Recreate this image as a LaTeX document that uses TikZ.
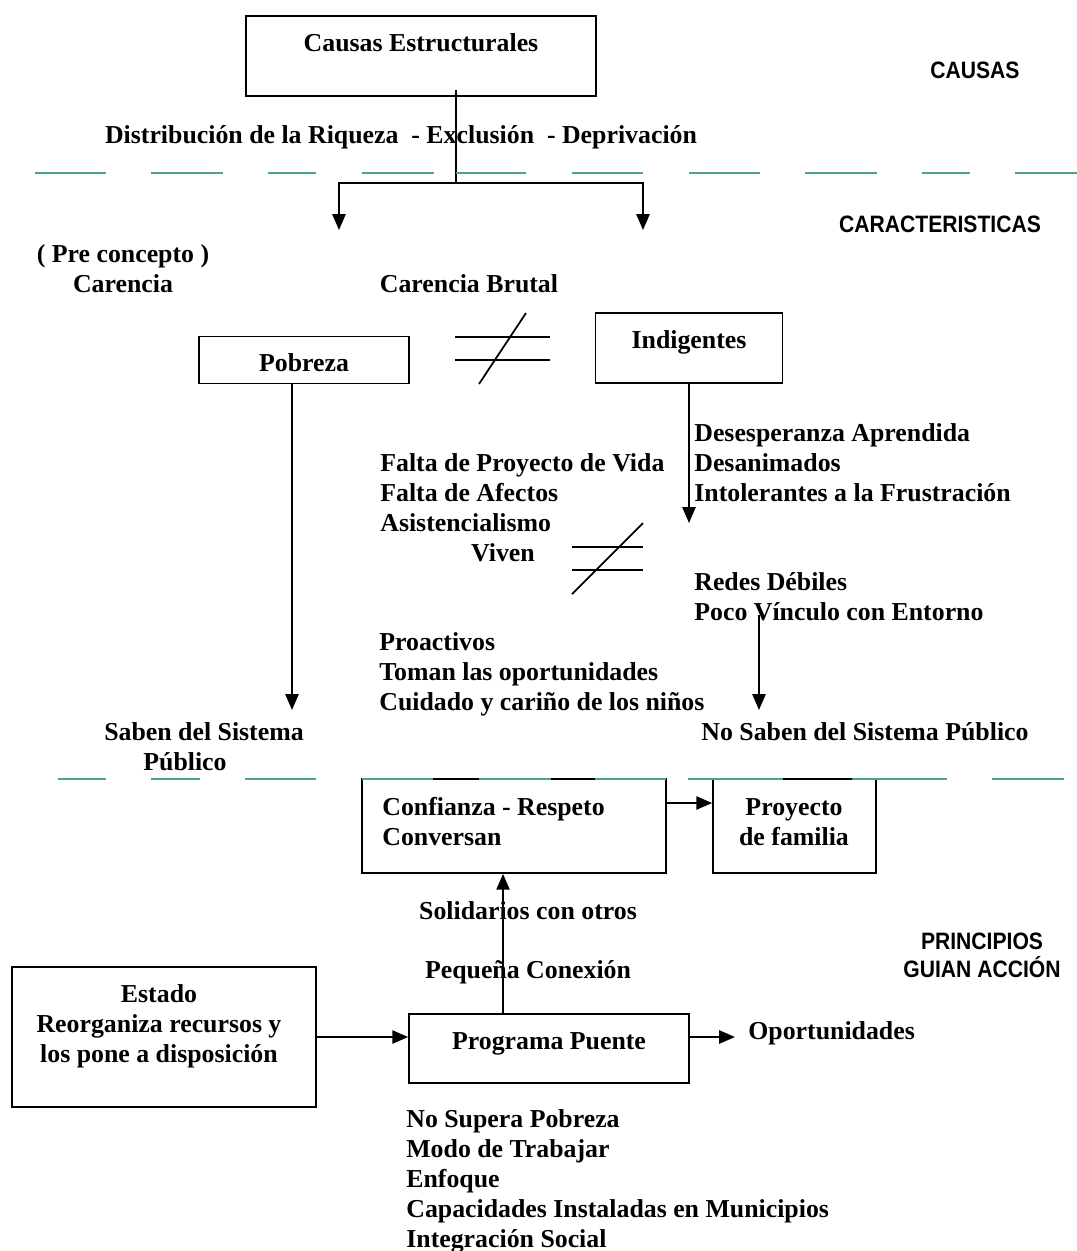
\documentclass[tikz,border=0pt]{standalone}
\usepackage{fontspec}
\setmainfont{Liberation Serif}
\newfontfamily\rotulofont{Liberation Sans}[FakeStretch=0.89]
\usetikzlibrary{arrows.meta}
\definecolor{verde}{RGB}{76,166,122}

\begin{document}
\begin{tikzpicture}[x=0.02cm,y=-0.02cm,
	caja/.style={draw,line width=1pt,inner sep=0pt},
	txt/.style={font=\fontsize{14.7}{17.07}\selectfont\bfseries,inner sep=0pt,text height=9.7pt,text depth=0pt},
	rotulo/.style={font=\fontsize{13.5}{15.9}\selectfont\rotulofont\bfseries,inner sep=0pt,align=center,text height=9.7pt,text depth=0pt},
	linea/.style={line width=1pt},
	flecha/.style={-{Triangle[length=9pt,width=7.5pt]},line width=1pt},
	corte/.style={line width=1.3pt,color=verde}]
	\useasboundingbox (0,0) rectangle (1077,1251);
	
	%boxes
	\node[caja,minimum width=7cm,minimum height=1.6cm]     (causas)     at (421,56)   {};
	\node[caja,minimum width=4.2cm,minimum height=0.94cm]  (pobreza)    at (304,360)  {};
	\node[caja,minimum width=3.74cm,minimum height=1.4cm]  (indigentes) at (689,348)  {};
	\node[caja,minimum width=6.08cm,minimum height=1.88cm] (confianza)  at (514,826)  {};
	\node[caja,minimum width=3.26cm,minimum height=1.88cm] (proyecto)   at (794.5,826) {};
	\node[caja,minimum width=5.6cm,minimum height=1.38cm]  (puente)     at (549,1048.5) {};
	\node[caja,minimum width=6.08cm,minimum height=2.8cm]  (estado)     at (164,1037) {};
	
	%labels - boxes (multi-line nodes sit on their last line)
	\node[txt] (causasT)     at (421,43)  {Causas Estructurales};
	\node[txt] (pobrezaT)    at (304,363) {Pobreza};
	\node[txt] (indigentesT) at (689,340) {Indigentes};
	\node[txt,align=left,anchor=west] (confianzaT) at (382,837) {Confianza - Respeto\\Conversan};
	\node[txt,align=center] (proyectoT) at (794,837) {Proyecto\\de familia};
	\node[txt] (puenteT)     at (549,1041) {Programa Puente};
	\node[txt,align=center] (estadoT) at (159,1054) {Estado\\Reorganiza recursos y\\los pone a disposición};
	
	%labels - right side
	\node[rotulo] (causasR)  at (975,70)  {CAUSAS};
	\node[rotulo] (caractR)  at (940,224) {CARACTERISTICAS};
	\node[rotulo] (princR)   at (982,969) {PRINCIPIOS\\GUIAN ACCIÓN};
	
	%labels - free text
	\node[txt] (distrib)  at (401,135) {Distribución de la Riqueza~ - Exclusión~ - Deprivación};
	\node[txt,align=center] (precon) at (123,284) {( Pre concepto )\\Carencia};
	\node[txt] (brutal)   at (469,284) {Carencia Brutal};
	\node[txt,align=left,anchor=west] (falta)  at (380,523) {Falta de Proyecto de Vida\\Falta de Afectos\\Asistencialismo};
	\node[txt] (viven)    at (503,553) {Viven};
	\node[txt,align=left,anchor=west] (desesp) at (694,493) {Desesperanza Aprendida\\Desanimados\\Intolerantes a la Frustración};
	\node[txt,align=left,anchor=west] (redes)  at (694,612) {Redes Débiles\\Poco Vínculo con Entorno};
	\node[txt,align=left,anchor=west] (proact) at (379,702) {Proactivos\\Toman las oportunidades\\Cuidado y cariño de los niños};
	\node[txt] (sabenA)   at (204,732) {Saben del Sistema};
	\node[txt] (sabenB)   at (185,762) {Público};
	\node[txt] (nosaben)  at (865,732) {No Saben del Sistema Público};
	\node[txt] (solid)    at (528,911) {Solidarios con otros};
	\node[txt] (pequena)  at (528,970) {Pequeña Conexión};
	\node[txt,anchor=west] (oport) at (748,1031) {Oportunidades};
	\node[txt,align=left,anchor=west] (principios) at (406,1239) {No Supera Pobreza\\Modo de Trabajar\\Enfoque\\Capacidades Instaladas en Municipios\\Integración Social};
	
	%free ends
	\coordinate (tronco)   at (456,90);
	\coordinate (rama)     at (456,183);
	\coordinate (bajaIzq)  at (339,230);
	\coordinate (bajaDer)  at (643,230);
	\coordinate (finPob)   at (292,710);
	\coordinate (finIndig) at (689,523);
	\coordinate (iniVinc)  at (759,615);
	\coordinate (finVinc)  at (759,710);
	\coordinate (eje)      at (503,950);
	\coordinate (hConf)    at (666,803);
	\coordinate (finOport) at (735,1037);
	
	%arrows
	\draw[linea] (tronco) -- (rama);
	\draw[flecha] (rama) -| (bajaIzq);
	\draw[flecha] (rama) -| (bajaDer);
	\draw[flecha] (pobreza.south -| finPob) -- (finPob);
	\draw[flecha] (indigentes.south) -- (finIndig);
	\draw[flecha] (iniVinc) -- (finVinc);
	\draw[flecha] (hConf) -- (hConf -| proyecto.west);
	\draw[flecha] (eje |- puente.north) -- (eje |- confianza.south);
	\draw[flecha] (estado.east) -- (estado.east -| puente.west);
	\draw[flecha] (finOport -| puente.east) -- (finOport);
	
	%not equal signs
	\draw[linea] (455,337)--(550,337);
	\draw[linea] (455,360)--(550,360);
	\draw[linea] (479,384)--(526,313);
	\draw[linea] (572,547)--(643,547);
	\draw[linea] (572,570)--(643,570);
	\draw[linea] (572,594)--(643,523);
	
	%dashed separators
	\foreach \a/\b in {35/106,151/223,268/316,362/434,456/526,572/643,689/760,805/877,922/970,1015/1077}
		\draw[corte] (\a,173) -- (\b,173);
	\foreach \a/\b in {58/106,151/200,245/316,362/433,479/551,595/666,688/783,852/947,992/1064}
		\draw[corte] (\a,779) -- (\b,779);
\end{tikzpicture}
\end{document}
